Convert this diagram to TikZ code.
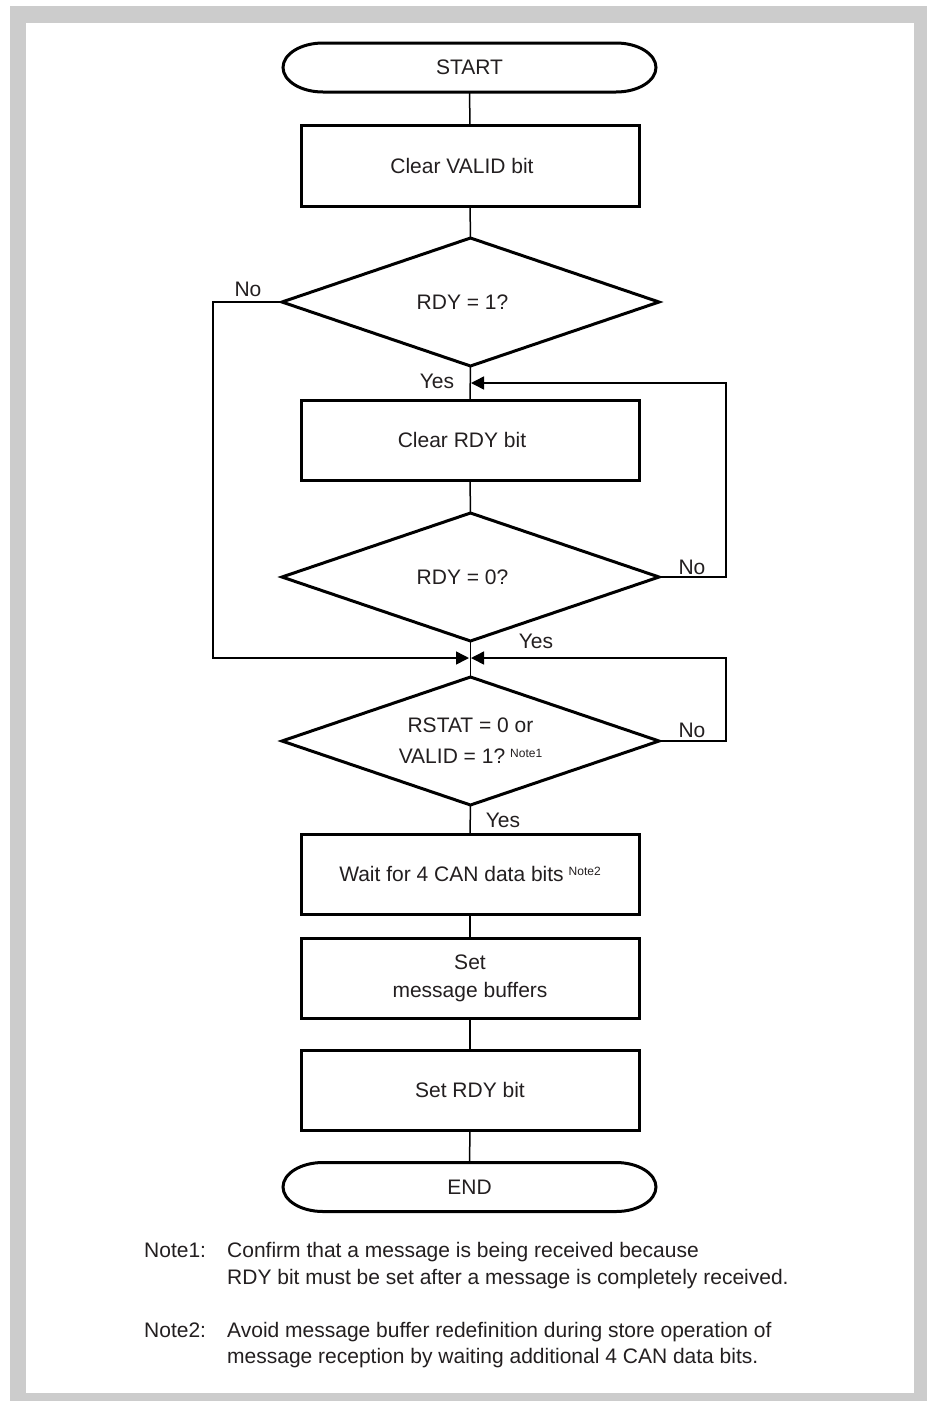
\documentclass[tikz,border=0pt]{standalone}
\usepackage{fontspec}
\setmainfont{Liberation Sans}
\usetikzlibrary{shapes.geometric,arrows.meta,calc}
\definecolor{framegray}{HTML}{CCCCCC}
\definecolor{txt}{HTML}{231F20}
\newcommand{\notesup}[1]{\hspace{5pt}{\fontsize{12}{14}\selectfont\raisebox{6.5pt}{#1}}}
\newcommand{\txtleftshift}{\hspace*{-16pt}}
\begin{document}
\begin{tikzpicture}[x=1pt,y=-1pt,
  every node/.style={font=\fontsize{21}{28}\selectfont, text=txt},
  proc/.style={draw=black, line width=3pt, minimum width=338pt, minimum height=80pt, inner sep=0pt, outer sep=0pt, align=center},
  dec/.style={draw=black, line width=3pt, shape=diamond, aspect=2.95, minimum width=377pt, minimum height=128pt, inner sep=0pt, outer sep=0pt, align=center},
  term/.style={minimum width=373pt, minimum height=49pt, inner sep=0pt, outer sep=0pt},
  termline/.style={draw=black, line width=3pt},
  conn/.style={line width=1.5pt, draw=black},
  arr/.style={conn, -{Triangle[length=13pt,width=13pt]}},
  lbl/.style={inner sep=0pt, text height=15pt, text depth=0pt},
]
\useasboundingbox (0,0) rectangle (927,1401);
\fill[framegray] (10,6) rectangle (927,1401);
\fill[white] (26,23) rectangle (914,1393);

% nodes
\node[term] (start) at (469.5,67.5) {START};
\node[proc, minimum height=81pt] (b1) at (470,165.5) {\txtleftshift Clear VALID bit};
\node[dec] (d1) at (470.5,302) {\txtleftshift RDY = 1?};
\node[proc] (b2) at (470,440) {\txtleftshift Clear RDY bit};
\node[dec] (d2) at (470.5,577) {\txtleftshift RDY = 0?};
\node[dec, font=\fontsize{21}{31}\selectfont] (d3) at (470.5,741) {RSTAT = 0 or\\VALID = 1?\notesup{Note1}};
\node[proc] (b3) at (470,874) {Wait for 4 CAN data bits\notesup{Note2}};
\node[proc] (b4) at (470,978) {Set\\message buffers};
\node[proc] (b5) at (470,1090) {Set RDY bit};
\node[term] (end) at (469.5,1187) {END};

% terminal outlines
\foreach \t in {start,end}{
  \draw[termline] ($(\t.north west)+(40,0)$) -- ($(\t.north east)+(-40,0)$)
    arc[start angle=90,end angle=-90,x radius=40pt,y radius=24.5pt]
    -- ($(\t.south west)+(40,0)$)
    arc[start angle=270,end angle=90,x radius=40pt,y radius=24.5pt] -- cycle;
}

% junctions
\coordinate (j1) at (471,383);
\coordinate (j2l) at (469,658);
\coordinate (j2r) at (471,658);

% connectors
\draw[conn] (start.south) -- (b1.north);
\draw[conn] (b1.south) -- (d1.north);
\draw[conn] (d1.south) -- (b2.north);
\draw[conn] (b2.south) -- (d2.north);
\draw[conn] (d2.south) -- (d3.north);
\draw[conn] (d3.south) -- (b3.north);
\draw[conn] (b3.south) -- (b4.north);
\draw[conn] (b4.south) -- (b5.north);
\draw[conn] (b5.south) -- (end.north);

\draw[arr] (d2.east) -- ++(67,0) |- (j1);
\draw[arr] (d1.west) -- ++(-69,0) |- (j2l);
\draw[arr] (d3.east) -- ++(67,0) |- (j2r);

% labels
\node[lbl] (l1) at (248,289) {No};
\node[lbl] (l2) at (437,381) {Yes};
\node[lbl] (l3) at (692,567) {No};
\node[lbl] (l4) at (536,641) {Yes};
\node[lbl] (l5) at (692,730) {No};
\node[lbl] (l6) at (503,820) {Yes};

% notes
\node[lbl, anchor=west] (n1) at (144,1250) {Note1:};
\node[lbl, anchor=west] (n1a) at (227,1250) {Confirm that a message is being received because};
\node[lbl, anchor=west] (n1b) at (227,1277) {RDY bit must be set after a message is completely received.};
\node[lbl, anchor=west] (n2) at (144,1330) {Note2:};
\node[lbl, anchor=west] (n2a) at (227,1330) {Avoid message buffer redefinition during store operation of};
\node[lbl, anchor=west] (n2b) at (227,1356) {message reception by waiting additional 4 CAN data bits.};
\end{tikzpicture}
\end{document}
